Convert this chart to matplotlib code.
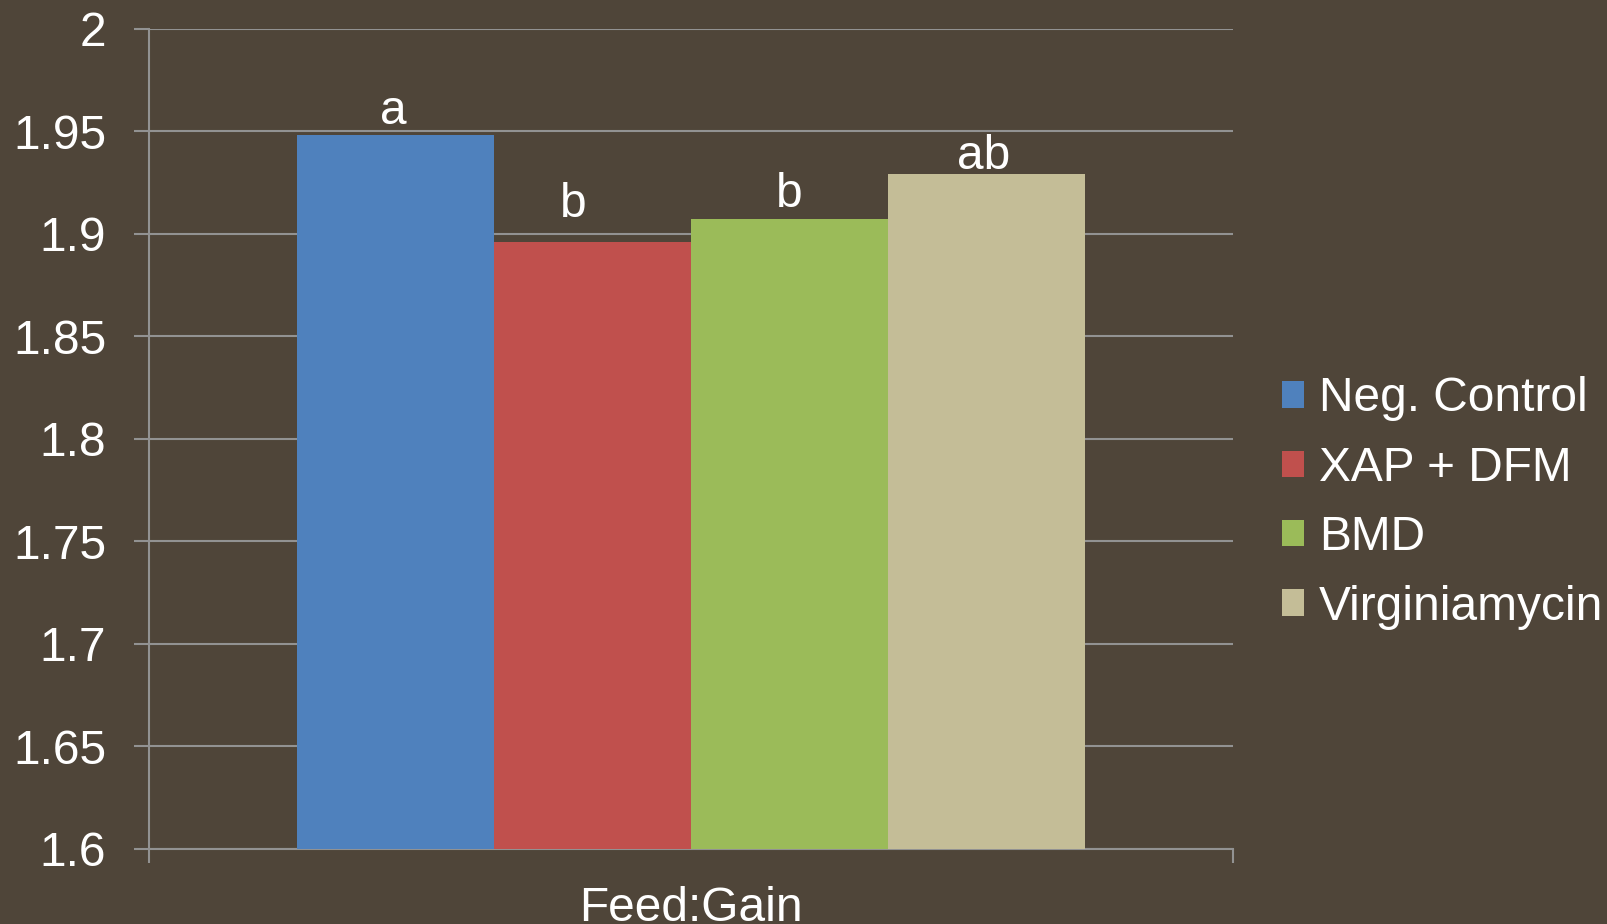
import matplotlib
matplotlib.use("Agg")
import matplotlib.pyplot as plt

# Data
category = "Feed:Gain"
treatments = ["Neg. Control", "XAP + DFM", "BMD", "Virginiamycin"]
values = [1.948, 1.896, 1.907, 1.929]
letters = ["a", "b", "b", "ab"]
y_ticks = [1.6, 1.65, 1.7, 1.75, 1.8, 1.85, 1.9, 1.95, 2.0]
y_tick_labels = ["1.6", "1.65", "1.7", "1.75", "1.8", "1.85", "1.9", "1.95", "2"]

# Style
bg = "#4f4539"
grid_col = "#929292"
bar_colors = ["#4f81bd", "#c0504d", "#9bbb59", "#c4bd97"]
letter_offsets = [(-1.4, 8.4), (-13.7, 18.2), (0, 8.6), (-2, 3.6)]  # points
fs = 34.5
plt.rcParams["font.family"] = ["Liberation Sans", "DejaVu Sans"]

fig = plt.figure(figsize=(16.07, 9.24), dpi=100, facecolor=bg)
ax = fig.add_axes([0.0925, 0.0816, 0.6748, 0.8873], facecolor=bg)

n = len(treatments)
width = 0.1817
start = -width * n / 2 + width / 2
for i, (name, v, c) in enumerate(zip(treatments, values, bar_colors)):
    x = start + i * width
    ax.bar(x, v - 1.6, bottom=1.6, width=width, color=c, label=name,
           zorder=3, linewidth=0)
    dx, dy = letter_offsets[i]
    ax.annotate(letters[i], (x, v), xytext=(dx, dy), textcoords="offset points",
                ha="center", va="baseline", color="white", fontsize=fs, zorder=4)

ax.set_xlim(-0.5, 0.5)
ax.set_ylim(1.6, 2.0)
ax.set_yticks(y_ticks)
ax.set_yticklabels(y_tick_labels)
ax.yaxis.grid(True, color=grid_col, linewidth=1.5, zorder=1)
ax.tick_params(axis="y", colors=grid_col, length=10.5, width=1.5, pad=20,
               labelcolor="white", labelsize=fs)

ax.set_xticks([0])
ax.set_xticklabels([category])
ax.set_xticks([-0.5, 0.5], minor=True)
ax.tick_params(axis="x", which="major", length=0, pad=27, labelcolor="white",
               labelsize=fs)
ax.tick_params(axis="x", which="minor", length=10, width=1.5, colors=grid_col)

for s in ["top", "right"]:
    ax.spines[s].set_visible(False)
for s in ["left", "bottom"]:
    ax.spines[s].set_color(grid_col)
    ax.spines[s].set_linewidth(1.5)
ax.set_axisbelow(True)

ax.legend(loc="center left", bbox_to_anchor=(1.045, 0.4215), frameon=False,
          fontsize=fs, labelcolor="white", handlelength=0.47,
          handleheight=0.47, handletextpad=0.3, labelspacing=0.51,
          borderaxespad=0, borderpad=0)

fig.savefig("out.png", dpi=100, facecolor=bg)
